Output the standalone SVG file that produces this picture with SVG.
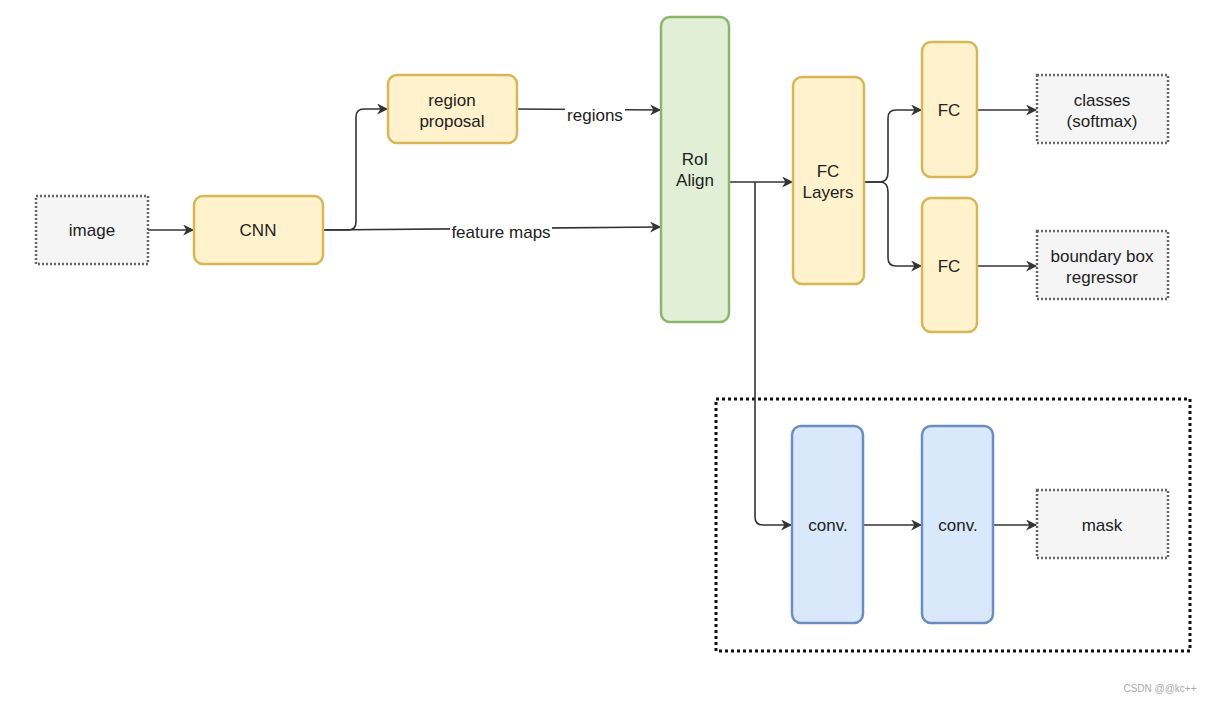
<svg xmlns="http://www.w3.org/2000/svg" width="1212" height="702" viewBox="0 0 1212 702">
<style>
text{font-family:"Liberation Sans",Arial,sans-serif;font-size:17px;fill:#222;text-anchor:middle}
.y{fill:#fff2cc;stroke:#d6b656;stroke-width:2.5}
.g{fill:#e1efd6;stroke:#8ab56c;stroke-width:2.5}
.b{fill:#dae8fc;stroke:#6c8ebf;stroke-width:2.5}
.d{fill:#f5f5f5;stroke:#666;stroke-width:2.5;stroke-dasharray:2 2}
.c{fill:none;stroke:#333;stroke-width:1.6;marker-end:url(#a)}
</style>
<defs>
<marker id="a" viewBox="0 0 10 10" refX="9" refY="5" markerWidth="12" markerHeight="11" markerUnits="userSpaceOnUse" orient="auto"><path d="M0,0 L10,5 L0,10 L3,5 z" fill="#333"/></marker>
</defs>
<rect width="1212" height="702" fill="#fff"/>
<rect x="716" y="399" width="474" height="252" fill="none" stroke="#111" stroke-width="3" stroke-dasharray="3 3"/>
<g id="connectors">
<path class="c" d="M148,230 H193"/>
<path class="c" d="M323,230 H348 Q356,230 356,222 V117 Q356,109 364,109 H387"/>
<path class="c" d="M323,230 L660,227"/>
<path class="c" d="M517,109 L660,110"/>
<path class="c" d="M729,182 H792"/>
<path class="c" d="M755,182 V517 Q755,525 763,525 H791"/>
<path class="c" d="M864,182 H880 Q888,182 888,172 V118 Q888,110 896,110 H921"/>
<path class="c" d="M864,182 H880 Q888,182 888,192 V258 Q888,266 896,266 H921"/>
<path class="c" d="M977,110 H1036"/>
<path class="c" d="M977,266 H1036"/>
<path class="c" d="M863,525 H921"/>
<path class="c" d="M993,525 H1036"/>
<rect x="565" y="105" width="60" height="20" fill="#fff"/>
<text x="595" y="121">regions</text>
<rect x="450" y="222" width="102" height="20" fill="#fff"/>
<text x="501" y="238">feature maps</text>
</g>
<g id="image"><rect class="d" x="36" y="196" width="112" height="68"/><text x="92" y="236">image</text></g>
<g id="cnn"><rect class="y" x="194" y="196" width="129" height="68" rx="9"/><text x="258" y="236">CNN</text></g>
<g id="region-proposal"><rect class="y" x="388" y="75" width="129" height="68" rx="9"/><text x="452" y="106">region</text><text x="452" y="127">proposal</text></g>
<g id="roi-align"><rect class="g" x="661" y="17" width="68" height="305" rx="9"/><text x="695" y="165">RoI</text><text x="695" y="186">Align</text></g>
<g id="fc-layers"><rect class="y" x="793" y="77" width="71" height="207" rx="9"/><text x="828" y="177">FC</text><text x="828" y="198">Layers</text></g>
<g id="fc1"><rect class="y" x="922" y="42" width="55" height="135" rx="9"/><text x="949" y="116">FC</text></g>
<g id="fc2"><rect class="y" x="922" y="198" width="55" height="134" rx="9"/><text x="949" y="272">FC</text></g>
<g id="classes"><rect class="d" x="1037" y="75" width="131" height="68"/><text x="1102" y="106">classes</text><text x="1102" y="127">(softmax)</text></g>
<g id="bbox"><rect class="d" x="1037" y="231" width="131" height="68"/><text x="1102" y="262">boundary box</text><text x="1102" y="283">regressor</text></g>
<g id="conv1"><rect class="b" x="792" y="426" width="71" height="197" rx="9"/><text x="828" y="531">conv.</text></g>
<g id="conv2"><rect class="b" x="922" y="426" width="71" height="197" rx="9"/><text x="958" y="531">conv.</text></g>
<g id="mask"><rect class="d" x="1037" y="490" width="131" height="68"/><text x="1102" y="531">mask</text></g>
<text x="1160" y="692" style="font-size:10px;fill:#aaa">CSDN @@kc++</text>
</svg>
